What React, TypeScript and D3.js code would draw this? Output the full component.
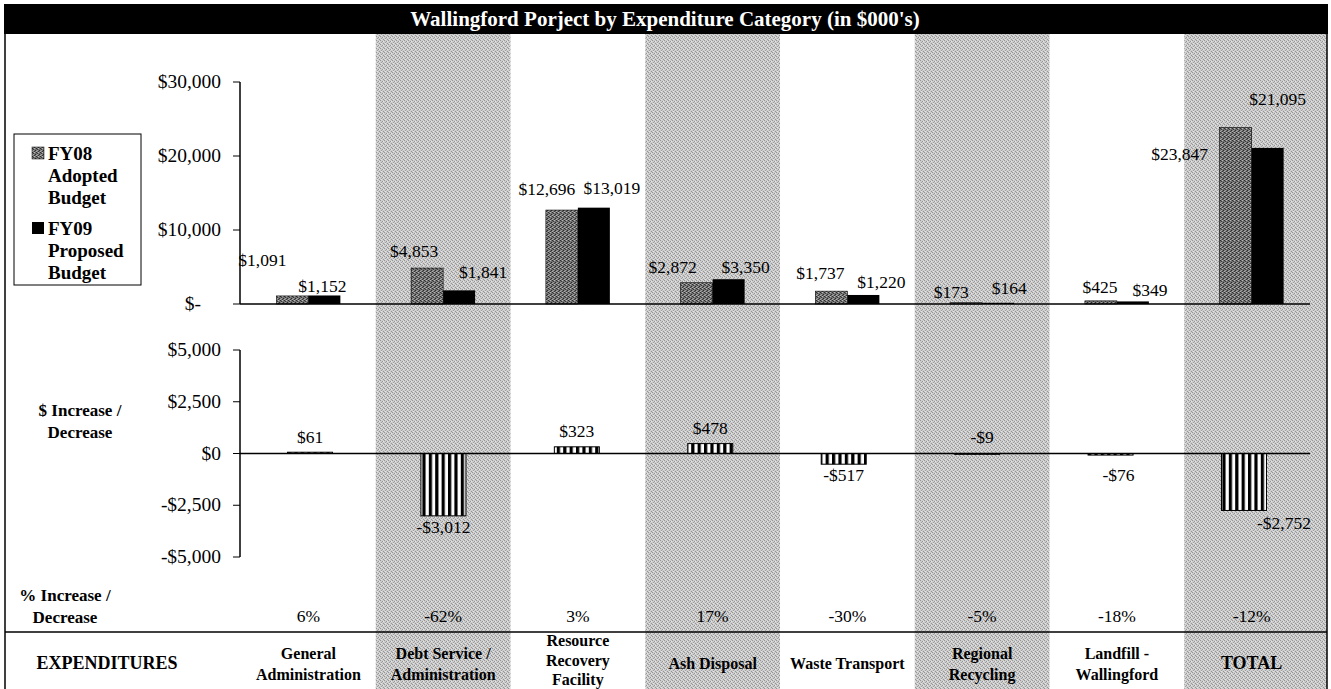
import React from 'react';
import * as d3 from 'd3';

// ---------- data ----------
const categories: string[][] = [
  ['General', 'Administration'],
  ['Debt Service /', 'Administration'],
  ['Resource', 'Recovery', 'Facility'],
  ['Ash Disposal'],
  ['Waste Transport'],
  ['Regional', 'Recycling'],
  ['Landfill -', 'Wallingford'],
  ['TOTAL'],
];
const categoryKeys = categories.map((c) => c.join(' '));
const fy08 = [1091, 4853, 12696, 2872, 1737, 173, 425, 23847];
const fy09 = [1152, 1841, 13019, 3350, 1220, 164, 349, 21095];
const change = [61, -3012, 323, 478, -517, -9, -76, -2752];
const pctChange = ['6%', '-62%', '3%', '17%', '-30%', '-5%', '-18%', '-12%'];
const topTicks = [0, 10000, 20000, 30000];
const bottomTicks = [-5000, -2500, 0, 2500, 5000];
const shadedColumns = [1, 3, 5, 7];
const seriesNames = ['FY08', 'FY09'];

// ---------- layout (label nudges, as placed in the original) ----------
const fy08LabelDx = [-30, -13, -15, -24, -11, -15, -1, -56];
const fy08LabelDy = [-30, -11, -15, -10, -12, -5, -8, 32];
const fy09LabelDx = [-2, 24, 18, 17, 18, 11, 17, 10];
const fy09LabelDy = [-3, -12, -14, -6, -7, -9, -5, -43];
const changeLabelDx = [0, 0, 0, 0, 0, 5, 8, 40];
const changeLabelDy = [-9, 17, -10, -10, 17, -11, 26, 19];

const W = 1331;
const H = 689;
const FONT = "'Liberation Serif', 'Times New Roman', serif";

const fmtMoney = (v: number) => (v < 0 ? '-$' : '$') + d3.format(',')(Math.abs(v));
const fmtTick = (v: number) => (v === 0 ? '$-' : '$' + d3.format(',')(v));
const fmtTick2 = (v: number) => (v < 0 ? '-$' : '$') + d3.format(',')(Math.abs(v));

export default function App() {
  const xTop = d3.scaleBand<string>().domain(categoryKeys).range([241, 1319]).padding(0);
  const xSeries = d3
    .scaleBand<string>()
    .domain(seriesNames)
    .range([xTop.bandwidth() / 2 - 32, xTop.bandwidth() / 2 + 32]);
  const yTop = d3.scaleLinear().domain([0, 30000]).range([304, 82]);

  const xBot = d3.scaleBand<string>().domain(categoryKeys).range([243.3, 1310.7]).padding(0);
  const yBot = d3.scaleLinear().domain([-5000, 5000]).range([557, 350]);
  const diffW = 45;

  const bw = xTop.bandwidth();
  const axisX = 240;

  return (
    <svg
      width={W}
      height={H}
      style={{ position: 'absolute', left: 0, top: 0, display: 'block', background: '#fff' }}
      fontFamily={FONT}
    >
      <defs>
        <pattern id="shade" width="4" height="4" patternUnits="userSpaceOnUse">
          <rect width="4" height="4" fill="#cdcdcd" />
          <rect x="0" y="0" width="1" height="1" fill="#959595" />
          <rect x="2" y="1" width="1" height="1" fill="#959595" />
          <rect x="1" y="2" width="1" height="1" fill="#9e9e9e" />
          <rect x="3" y="3" width="1" height="1" fill="#959595" />
          <rect x="3" y="1" width="1" height="1" fill="#e4e4e4" />
          <rect x="1" y="3" width="1" height="1" fill="#e4e4e4" />
        </pattern>
        <pattern id="fy08" width="4" height="4" patternUnits="userSpaceOnUse">
          <rect width="4" height="4" fill="#747474" />
          <rect x="0" y="0" width="1" height="1" fill="#2c2c2c" />
          <rect x="2" y="0" width="1" height="1" fill="#b8b8b8" />
          <rect x="1" y="1" width="1" height="1" fill="#3c3c3c" />
          <rect x="3" y="2" width="1" height="1" fill="#2c2c2c" />
          <rect x="0" y="3" width="1" height="1" fill="#adadad" />
          <rect x="2" y="3" width="1" height="1" fill="#363636" />
          <rect x="1" y="2" width="1" height="1" fill="#a0a0a0" />
        </pattern>
        <pattern id="stripes" width="6.4" height="4" patternUnits="userSpaceOnUse">
          <rect width="6.4" height="4" fill="#fff" />
          <rect x="0" width="3.2" height="4" fill="#000" />
        </pattern>
      </defs>

      {/* shaded columns */}
      {shadedColumns.map((i) => {
        const x0 = xTop(categoryKeys[i])!;
        const x1 = i === categoryKeys.length - 1 ? 1327 : x0 + bw;
        return <rect key={i} x={x0} y={33} width={x1 - x0} height={H - 33} fill="url(#shade)" />;
      })}

      {/* title bar */}
      <rect x={4} y={4} width={1324} height={30} fill="#000" />
      <text x={665} y={26} textAnchor="middle" fill="#fff" fontWeight="bold" fontSize={21}>
        Wallingford Porject by Expenditure Category (in $000's)
      </text>

      {/* frame */}
      <line x1={5} x2={5} y1={33} y2={H} stroke="#000" strokeWidth={1.5} />
      <line x1={1327} x2={1327} y1={33} y2={H} stroke="#000" strokeWidth={1.5} />
      <line x1={5} x2={1327} y1={632} y2={632} stroke="#000" strokeWidth={1.5} />

      {/* legend */}
      <rect x={14} y={134} width={127} height={151} fill="#fff" stroke="#000" strokeWidth={1} />
      <rect x={32} y={147} width={12} height={12} fill="url(#fy08)" stroke="#000" strokeWidth={0.5} />
      <rect x={32} y={222} width={12} height={12} fill="#000" />
      <g fontWeight="bold" fontSize={19}>
        <text x={48} y={160}>FY08</text>
        <text x={48} y={182}>Adopted</text>
        <text x={48} y={204}>Budget</text>
        <text x={48} y={235}>FY09</text>
        <text x={48} y={257}>Proposed</text>
        <text x={48} y={279}>Budget</text>
      </g>

      {/* top axis */}
      <line x1={axisX} x2={axisX} y1={yTop(30000)} y2={yTop(0)} stroke="#000" strokeWidth={1.5} />
      {topTicks.map((t) => (
        <g key={t}>
          <line x1={axisX - 7} x2={axisX} y1={yTop(t)} y2={yTop(t)} stroke="#000" strokeWidth={1} />
          <text x={t === 0 ? 201 : 221} y={yTop(t) + 6} textAnchor="end" fontSize={19.5}>
            {fmtTick(t)}
          </text>
        </g>
      ))}

      {/* top bars */}
      {categoryKeys.map((k, i) => {
        const bx = xTop(k)!;
        const x08 = bx + xSeries('FY08')!;
        const x09 = bx + xSeries('FY09')!;
        const sw = xSeries.bandwidth();
        return (
          <g key={k}>
            <rect
              x={x08}
              y={yTop(fy08[i])}
              width={sw}
              height={yTop(0) - yTop(fy08[i])}
              fill="url(#fy08)"
              stroke="#000"
              strokeWidth={0.6}
            />
            <rect x={x09} y={yTop(fy09[i])} width={sw} height={yTop(0) - yTop(fy09[i])} fill="#000" />
            <text
              x={x08 + sw / 2 + fy08LabelDx[i]}
              y={yTop(fy08[i]) + fy08LabelDy[i]}
              textAnchor="middle"
              fontSize={17.5}
            >
              {fmtMoney(fy08[i])}
            </text>
            <text
              x={x09 + sw / 2 + fy09LabelDx[i]}
              y={yTop(fy09[i]) + fy09LabelDy[i]}
              textAnchor="middle"
              fontSize={17.5}
            >
              {fmtMoney(fy09[i])}
            </text>
          </g>
        );
      })}
      <line x1={axisX} x2={1310} y1={yTop(0)} y2={yTop(0)} stroke="#000" strokeWidth={1.5} />

      {/* bottom axis */}
      <line x1={axisX} x2={axisX} y1={yBot(5000)} y2={yBot(-5000)} stroke="#000" strokeWidth={1.5} />
      {bottomTicks.map((t) => (
        <g key={t}>
          <line x1={axisX - 7} x2={axisX} y1={yBot(t)} y2={yBot(t)} stroke="#000" strokeWidth={1} />
          <text x={221} y={yBot(t) + 6} textAnchor="end" fontSize={19.5}>
            {fmtTick2(t)}
          </text>
        </g>
      ))}
      <g fontWeight="bold" fontSize={17} textAnchor="middle">
        <text x={80} y={416}>$ Increase /</text>
        <text x={80} y={438}>Decrease</text>
      </g>

      {/* change bars */}
      {categoryKeys.map((k, i) => {
        const cx = xBot(k)! + xBot.bandwidth() / 2;
        const v = change[i];
        const y0 = Math.min(yBot(v), yBot(0));
        const h = Math.max(Math.abs(yBot(v) - yBot(0)), 0.8);
        return (
          <g key={k}>
            <rect
              x={cx - diffW / 2}
              y={y0}
              width={diffW}
              height={h}
              fill="url(#stripes)"
              stroke="#000"
              strokeWidth={1}
            />
            <text x={cx + changeLabelDx[i]} y={yBot(v) + changeLabelDy[i]} textAnchor="middle" fontSize={17.5}>
              {fmtMoney(v)}
            </text>
          </g>
        );
      })}
      <line x1={axisX} x2={1310} y1={yBot(0)} y2={yBot(0)} stroke="#000" strokeWidth={1.5} />

      {/* percent row */}
      <g fontWeight="bold" fontSize={17} textAnchor="middle">
        <text x={65} y={601}>% Increase /</text>
        <text x={65} y={623}>Decrease</text>
      </g>
      {categoryKeys.map((k, i) => (
        <text key={k} x={xTop(k)! + bw / 2} y={622} textAnchor="middle" fontSize={17.5}>
          {pctChange[i]}
        </text>
      ))}

      {/* category labels */}
      <text x={107} y={669} textAnchor="middle" fontWeight="bold" fontSize={18}>
        EXPENDITURES
      </text>
      {categories.map((lines, i) => {
        const cx = xTop(categoryKeys[i])! + bw / 2;
        const lh = lines.length > 2 ? 19.5 : 21;
        const startY = lines.length > 2 ? 646 : 669 - ((lines.length - 1) * lh) / 2;
        return (
          <text key={i} textAnchor="middle" fontWeight="bold" fontSize={i === 7 ? 18 : 16}>
            {lines.map((ln, j) => (
              <tspan key={j} x={cx} y={startY + j * lh}>
                {ln}
              </tspan>
            ))}
          </text>
        );
      })}
    </svg>
  );
}
